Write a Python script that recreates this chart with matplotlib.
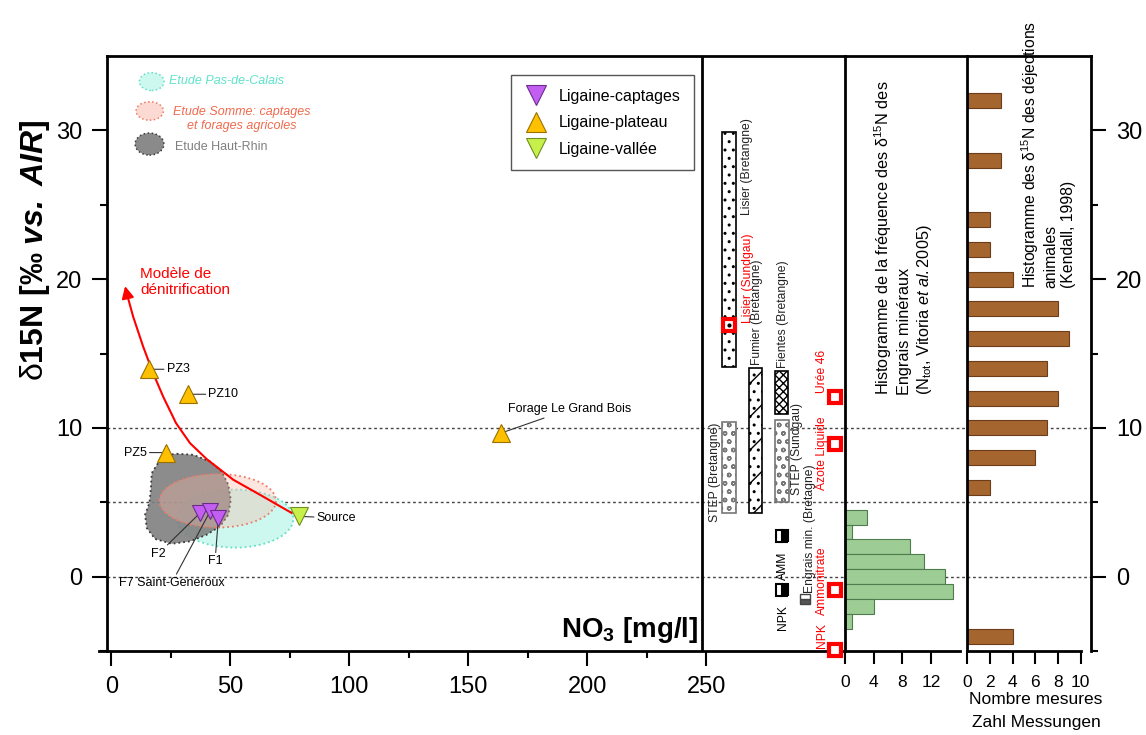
import matplotlib
matplotlib.use('Agg')
import matplotlib.pyplot as plt
from matplotlib.patches import Ellipse, Polygon
from matplotlib.lines import Line2D

plt.rcParams['font.family'] = ['Liberation Sans', 'DejaVu Sans']
plt.rcParams['mathtext.fontset'] = 'custom'
plt.rcParams['mathtext.rm'] = 'Liberation Sans'
plt.rcParams['mathtext.it'] = 'Liberation Sans:italic'
plt.rcParams['mathtext.bf'] = 'Liberation Sans:bold'
plt.rcParams['mathtext.bfit'] = 'Liberation Sans:italic:bold'
plt.rcParams['hatch.linewidth'] = 1.0

# --- points Ligaine (NO3 en mg/l, d15N en permil) ---
captages_noms = ['F2', 'F7 Saint-Generoux', 'F1']
captages_no3 = [37.3, 41.5, 45.0]
captages_d15n = [4.28, 4.38, 3.94]

plateau_noms = ['PZ3', 'PZ10', 'PZ5', 'Forage Le Grand Bois']
plateau_no3 = [15.8, 32.4, 22.9, 163.6]
plateau_d15n = [13.94, 12.26, 8.34, 9.64]

vallee_noms = ['Source']
vallee_no3 = [78.9]
vallee_d15n = [4.05]

# courbe du modele de denitrification
modele_no3 = [75.8, 62.5, 51.3, 40.1, 33.1, 27.2, 21.8, 17.6, 13.4, 9.2, 6.5, 5.8]
modele_d15n = [4.28, 5.50, 6.51, 7.90, 8.97, 10.32, 12.10, 13.67, 15.46, 17.47, 19.04, 19.53]

# domaines des autres etudes
pas_de_calais = dict(no3=52.0, d15n=3.9, larg=49.0, haut=3.9)
somme = dict(no3=44.7, d15n=5.1, larg=49.0, haut=3.6)
haut_rhin_no3 = [27.5, 34.5, 41.5, 46.4, 49.2, 50.2, 49.2, 45.7, 40.1, 33.1, 25.4,
                 18.4, 14.9, 14.2, 16.0, 16.6, 17.0, 20.5, 23.9]
haut_rhin_d15n = [8.26, 8.19, 7.74, 7.07, 6.17, 5.17, 4.16, 3.38, 2.82, 2.37, 2.21,
                  2.53, 3.27, 4.16, 4.95, 5.84, 6.96, 7.85, 8.19]

# gammes de d15N des sources
sources_noms = ['Lisier (Bretangne)', 'Fumier (Bretangne)', 'Fientes (Bretangne)',
                'STEP (Bretangne)', 'STEP (Sundgau)']
sources_min = [14.1, 4.3, 10.9, 4.3, 5.05]
sources_max = [29.9, 14.0, 13.8, 10.4, 10.5]

# valeurs ponctuelles
engrais_rouges = ['Urée 46', 'Azote Liquide', 'Ammonitrate', 'NPK']
engrais_rouges_d15n = [12.1, 8.9, -0.9, -4.9]
lisier_sundgau_d15n = 16.9
engrais_bret_noms = ['AMM', 'NPK']
engrais_bret_d15n = [2.7, -0.9]
engrais_min_d15n = -1.5

# histogramme engrais mineraux
hist_min_d15n = [4, 3, 2, 1, 0, -1, -2, -3]
hist_min_n = [3, 1, 9, 11, 14, 15, 4, 1]

# histogramme dejections animales
hist_anim_d15n = [32, 28, 24, 22, 20, 18, 16, 14, 12, 10, 8, 6, -4]
hist_anim_n = [3, 3, 2, 2, 4, 8, 9, 7, 8, 7, 6, 2, 4]

violet, violet_b = '#c35ef3', '#6b2c8c'
orange, orange_b = '#ffc000', '#9a7000'
vert, vert_b = '#c8f04a', '#6f8f22'

W, H = 1146, 735
fig = plt.figure(figsize=(W / 100, H / 100), dpi=100)
bot, top = 1 - 651 / H, 1 - 56 / H
axA = fig.add_axes([107 / W, bot, (845 - 107) / W, top - bot])
axB = fig.add_axes([845 / W, bot, (967 - 845) / W, top - bot])
axC = fig.add_axes([967 / W, bot, (1091 - 967) / W, top - bot])

for ax in (axA, axB, axC):
    ax.set_ylim(-5, 35)
    ax.set_facecolor('none')
    for s in ax.spines.values():
        s.set_linewidth(2.0)
    for v in (0, 5, 10):
        ax.axhline(v, color='#444444', ls=(0, (2, 2)), lw=1.0, zorder=1)

# ---------------- panneau principal ----------------
axA.set_xlim(-1.8, 308.3)
axA.spines['right'].set_visible(False)
axA.spines['bottom'].set_bounds(-5, 308.3)
axA.set_xticks([0, 50, 100, 150, 200, 250])
axA.set_xticks([25, 75, 125, 175, 225], minor=True)
axA.set_yticks([0, 10, 20, 30])
axA.set_yticks([-5, 5, 15, 25], minor=True)
axA.tick_params(which='major', direction='out', length=11, width=1.5, labelsize=17, pad=7)
axA.tick_params(which='minor', direction='out', length=5, width=1.5)
axA.axvline(248.2, color='black', lw=2.0, zorder=6)

axA.add_patch(Ellipse((pas_de_calais['no3'], pas_de_calais['d15n']), pas_de_calais['larg'],
                      pas_de_calais['haut'], facecolor='#cdf8ef', edgecolor='#5fe0c6',
                      ls=':', lw=1.3, zorder=2))
axA.add_patch(Polygon(list(zip(haut_rhin_no3, haut_rhin_d15n)), closed=True,
                      facecolor=(0.5, 0.5, 0.5, 0.9), edgecolor='#3a3a3a', ls=':', lw=1.3,
                      zorder=3))
axA.add_patch(Ellipse((somme['no3'], somme['d15n']), somme['larg'], somme['haut'],
                      facecolor=(0.98, 0.72, 0.66, 0.35), edgecolor='#f07a66',
                      ls=':', lw=1.3, zorder=4))

# courbe de denitrification
axA.plot(modele_no3[:-1], modele_d15n[:-1], color='red', lw=1.5, zorder=5)
axA.annotate('', xy=(modele_no3[-1], modele_d15n[-1]), xytext=(modele_no3[-2], modele_d15n[-2]),
             arrowprops=dict(arrowstyle='-|>', color='red', lw=1.5, mutation_scale=18,
                             shrinkA=0, shrinkB=0), zorder=5)
axA.text(12.1, 19.8, 'Modèle de\ndénitrification', color='red', fontsize=11, va='center')

axA.plot(captages_no3, captages_d15n, 'v', ms=12, mfc=violet, mec=violet_b, mew=0.8, zorder=7)
axA.plot(plateau_no3, plateau_d15n, '^', ms=13, mfc=orange, mec=orange_b, mew=0.8, zorder=7)
axA.plot(vallee_no3, vallee_d15n, 'v', ms=13, mfc=vert, mec=vert_b, mew=0.8, zorder=7)

lead = dict(arrowstyle='-', color='#333333', lw=0.8, shrinkA=0, shrinkB=3)
etiquettes = [
    (plateau_no3[0], plateau_d15n[0], 'PZ3', (23.3, 13.94), 'left'),
    (plateau_no3[1], plateau_d15n[1], 'PZ10', (40.8, 12.26), 'left'),
    (plateau_no3[2], plateau_d15n[2], 'PZ5', (14.9, 8.34), 'right'),
    (plateau_no3[3], plateau_d15n[3], 'Forage Le Grand Bois', (192.4, 11.25), 'center'),
    (vallee_no3[0], vallee_d15n[0], 'Source', (86.3, 3.95), 'left'),
    (captages_no3[0], captages_d15n[0], 'F2', (19.8, 1.54), 'center'),
    (captages_no3[2], captages_d15n[2], 'F1', (43.6, 1.03), 'center'),
    (captages_no3[1], captages_d15n[1], 'F7 Saint-Generoux', (25.4, -0.42), 'center'),
]
for x, y, txt, pos, ha in etiquettes:
    axA.annotate(txt, xy=(x, y), xytext=pos, ha=ha, va='center', fontsize=9,
                 arrowprops=lead, zorder=6)

# legende des etudes
tr = axA.transAxes
axA.add_patch(Ellipse((0.0606, 0.957), 0.0335, 0.030, transform=tr, facecolor='#cdf8ef',
                      edgecolor='#5fe0c6', ls=':', lw=1.1))
axA.add_patch(Ellipse((0.0579, 0.9076), 0.037, 0.031, transform=tr, facecolor='#fcd9d2',
                      edgecolor='#f07a66', ls=':', lw=1.1))
axA.add_patch(Ellipse((0.0576, 0.852), 0.039, 0.037, transform=tr, facecolor='#8a8a8a',
                      edgecolor='#3a3a3a', ls=':', lw=1.1))
axA.text(0.084, 0.958, 'Etude Pas-de-Calais', transform=tr, color='#5fe3cb', fontsize=9,
         style='italic', va='center')
axA.text(0.183, 0.894, 'Etude Somme: captages\net forages agricoles', transform=tr,
         color='#f06a4e', fontsize=9, style='italic', va='center', ha='center',
         multialignment='center')
axA.text(0.0921, 0.8466, 'Etude Haut-Rhin', transform=tr, color='#808080', fontsize=9,
         va='center')

handles = [Line2D([], [], marker='v', ls='none', ms=15, mfc=violet, mec=violet_b, mew=0.8),
           Line2D([], [], marker='^', ls='none', ms=15, mfc=orange, mec=orange_b, mew=0.8),
           Line2D([], [], marker='v', ls='none', ms=15, mfc=vert, mec=vert_b, mew=0.8)]
leg = axA.legend(handles, ['Ligaine-captages', 'Ligaine-plateau', 'Ligaine-vallée'],
                 loc='upper left', bbox_to_anchor=(0.548, 0.968), borderaxespad=0,
                 fontsize=11.5, fancybox=False, edgecolor='#555555', framealpha=1,
                 handletextpad=0.7, labelspacing=0.72, borderpad=0.85, handlelength=1.4)
leg.get_frame().set_linewidth(1.0)

axA.text(246.5, -4.6, r'NO$_\mathbf{3}$ [mg/l]', fontsize=20, fontweight='bold',
         ha='right', va='bottom')

# gammes des sources
larg = [5.6, 5.2, 5.6, 5.6, 5.8]
pos_x = [259.6, 270.7, 281.7, 259.6, 281.9]
hach = ['..', '/..', 'xxxx', 'oo', 'oo']
coul = ['black', 'black', 'black', '#777777', '#777777']
for i in range(len(sources_noms)):
    axA.bar(pos_x[i], sources_max[i] - sources_min[i], bottom=sources_min[i], width=larg[i],
            facecolor='white', edgecolor=coul[i], hatch=hach[i], lw=1.2, zorder=3)

axA.plot([259.7], [lisier_sundgau_d15n], 's', ms=9, mfc='white', mec='red', mew=3, zorder=6)
axA.plot([259.7], [lisier_sundgau_d15n], '.', ms=4, color='black', zorder=7)
axA.plot([304.2] * 4, engrais_rouges_d15n, 's', ms=9, mfc='white', mec='red', mew=3,
         zorder=6, clip_on=False)
axA.plot([281.8] * 2, engrais_bret_d15n, 's', ms=9, fillstyle='right', mfc='black',
         mfcalt='white', mec='black', mew=1.5, zorder=6)
axA.plot([291.4], [engrais_min_d15n], 's', ms=7, fillstyle='bottom', mfc='#555555',
         mfcalt='white', mec='#444444', mew=1, zorder=6)

rot = dict(rotation=90, ha='center', va='bottom', fontsize=8.7)
axA.text(267.0, 24.3, sources_noms[0], color='#222222', **rot)
axA.text(267.5, 17.05, 'Lisier (Sundgau)', color='red', **rot)
axA.text(271.2, 14.2, sources_noms[1], color='#222222', **rot)
axA.text(282.2, 14.0, sources_noms[2], color='#222222', **rot)
axA.text(253.6, 3.7, sources_noms[3], color='#222222', **rot)
axA.text(288.0, 5.5, sources_noms[4], color='#222222', **rot)
axA.text(293.6, -1.07, 'Engrais min. (Bretagne)', color='#222222', **rot)
axA.text(282.1, -0.2, engrais_bret_noms[0], color='black', **rot)
axA.text(282.1, -3.56, engrais_bret_noms[1], color='black', **rot)
for nom, yb in zip(engrais_rouges, [12.35, 5.84, -2.55, -4.77]):
    axA.text(298.8, yb, nom, color='red', **rot)

fig.text(0.0305, 1 - 250 / H, r'$\mathrm{\delta}$15N [‰ $\mathbfit{vs.\ AIR}$]', rotation=90,
         fontsize=23, fontweight='bold', ha='center', va='center')

# ---------------- histogramme engrais mineraux ----------------
axB.set_xlim(0, 17.0)
axB.barh(hist_min_d15n, hist_min_n, height=1.0, color='#9dcc95', edgecolor='#4d7d4d',
         lw=0.8, zorder=2)
axB.spines['bottom'].set_bounds(0, 16)
axB.spines['right'].set_visible(False)
axB.set_xticks([0, 4, 8, 12])
axB.tick_params(axis='x', direction='out', length=9, width=1.5, labelsize=12.5, pad=8)
axB.tick_params(axis='y', left=False, labelleft=False)
axB.text(8.1, 12.2, 'Histogramme de la fréquence des $\\mathrm{\\delta}^{15}$N des\n'
         'Engrais minéraux\n(N$_{\\mathrm{tot}}$, Vitoria $\\mathit{et\\ al.}$2005)',
         rotation=90, ha='center', va='bottom', multialignment='left', fontsize=11.7)

# ---------------- histogramme dejections animales ----------------
axC.set_xlim(0, 10.9)
axC.barh(hist_anim_d15n, hist_anim_n, height=1.0, color='#a5652f', edgecolor='#6b3d18',
         lw=0.8, zorder=2)
axC.spines['bottom'].set_bounds(0, 10)
axC.set_xticks([0, 2, 4, 6, 8, 10])
axC.tick_params(axis='x', direction='out', length=9, width=1.5, labelsize=12.5, pad=8)
axC.yaxis.tick_right()
axC.set_yticks([0, 10, 20, 30])
axC.set_yticks([-5, 5, 15, 25], minor=True)
axC.tick_params(axis='y', which='major', direction='out', length=11, width=1.5,
                labelsize=17, pad=7)
axC.tick_params(axis='y', which='minor', direction='out', length=5, width=1.5)
axC.text(7.1, 19.4, 'Histogramme des $\\mathrm{\\delta}^{15}$N des déjections\n'
         'animales\n(Kendall, 1998)', rotation=90, ha='center', va='bottom',
         multialignment='left', fontsize=11.3)

fig.text(1036 / W, 1 - 700 / H, 'Nombre mesures', ha='center', va='center', fontsize=12.5)
fig.text(1036 / W, 1 - 722 / H, 'Zahl Messungen', ha='center', va='center', fontsize=12.5)

fig.savefig('out.png', dpi=100)
